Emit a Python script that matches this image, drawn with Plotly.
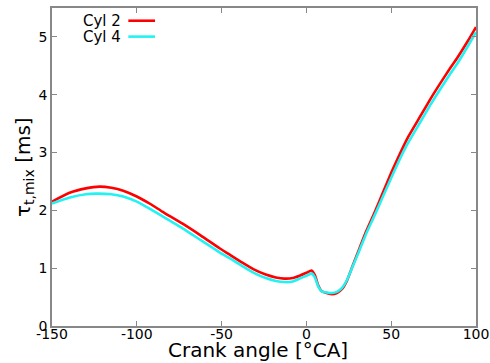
import plotly.graph_objects as go

# Crank angle sample points [°CA] and mixing time [ms] for each cylinder
cyl2_angle = [-150, -140, -130, -122, -115, -108, -100, -92, -85, -73, -62, -51, -45, -38,
              -31, -24, -18, -13, -8, -4, 0, 3, 5, 7, 9, 12, 15, 18, 21, 24, 27, 31, 35,
              40, 45, 50, 55, 60, 67, 73, 79, 85, 89, 95, 100]
cyl2_tau = [2.15, 2.30, 2.38, 2.41, 2.39, 2.34, 2.24, 2.11, 1.98, 1.77, 1.56, 1.34, 1.23, 1.10,
            0.98, 0.89, 0.84, 0.82, 0.83, 0.87, 0.92, 0.96, 0.88, 0.70, 0.60, 0.57, 0.55, 0.57,
            0.64, 0.79, 1.02, 1.32, 1.62, 1.95, 2.30, 2.65, 2.97, 3.27, 3.62, 3.92, 4.20, 4.47,
            4.64, 4.92, 5.17]

cyl4_angle = [-150, -140, -130, -124, -115, -108, -100, -92, -85, -73, -62, -51, -45, -38,
              -31, -24, -18, -13, -8, -4, 0, 3, 5, 7, 9, 12, 15, 18, 21, 24, 27, 31, 35,
              40, 45, 50, 55, 60, 67, 73, 79, 85, 89, 95, 100]
cyl4_tau = [2.12, 2.22, 2.28, 2.29, 2.28, 2.24, 2.15, 2.02, 1.90, 1.69, 1.48, 1.27, 1.17, 1.04,
            0.92, 0.83, 0.78, 0.76, 0.77, 0.82, 0.87, 0.91, 0.84, 0.68, 0.60, 0.58, 0.57, 0.59,
            0.66, 0.80, 1.01, 1.29, 1.58, 1.90, 2.23, 2.56, 2.88, 3.17, 3.52, 3.82, 4.10, 4.37,
            4.54, 4.83, 5.08]

series = [("Cyl 2", cyl2_angle, cyl2_tau, "#ff0000"),
          ("Cyl 4", cyl4_angle, cyl4_tau, "#22f2f2")]

x_ticks = [-150, -100, -50, 0, 50, 100]
x_tick_labels = ["-150", "-100", "-50", "0", "50", "100"]
y_ticks = [0, 1, 2, 3, 4, 5]
y_tick_labels = ["0", "1", "2", "3", "4", "5"]

FONT = "DejaVu Sans"
AXIS_COLOR = "#888888"

fig = go.Figure()
for name, xs, ys, color in series:
    fig.add_trace(go.Scatter(
        x=xs, y=ys, mode="lines", name=name,
        line=dict(color=color, width=2.6, shape="spline", smoothing=0.5),
        showlegend=False,
    ))

axis_common = dict(
    showgrid=False, zeroline=False, showline=True, mirror="ticks",
    linecolor=AXIS_COLOR, linewidth=1.5, automargin=False,
    ticks="inside", ticklen=5, tickcolor=AXIS_COLOR, tickwidth=1,
    tickfont=dict(family=FONT, size=14, color="#000000"),
)

fig.update_xaxes(range=[-150, 100], tickvals=x_ticks, ticktext=x_tick_labels,
                 ticklabelstandoff=-6, **axis_common)
fig.update_yaxes(range=[0, 5.5], tickvals=y_ticks, ticktext=y_tick_labels, **axis_common)

# axis titles
fig.add_annotation(xref="paper", yref="paper", x=0.487, y=-0.074, text="Crank angle [°CA]",
                   showarrow=False, xanchor="center", yanchor="middle",
                   font=dict(family=FONT, size=20, color="#000000"))
fig.add_annotation(xref="paper", yref="paper", x=-0.066, y=0.50, text="τ<sub>t,mix</sub> [ms]",
                   showarrow=False, xanchor="center", yanchor="middle", textangle=-90,
                   font=dict(family=FONT, size=20, color="#000000"))

# gnuplot-style key: right-aligned label followed by a line sample
key_rows = [(0.96, series[0]), (0.91, series[1])]
for ypos, (name, _, _, color) in key_rows:
    fig.add_annotation(xref="paper", yref="paper", x=0.168, y=ypos, text=name,
                       showarrow=False, xanchor="right", yanchor="middle",
                       font=dict(family=FONT, size=15, color="#000000"))
    fig.add_shape(type="line", xref="paper", yref="paper",
                  x0=0.18, x1=0.243, y0=ypos, y1=ypos,
                  line=dict(color=color, width=2.6))

fig.update_layout(
    width=490, height=363,
    margin=dict(l=52, r=14, t=8, b=37),
    paper_bgcolor="white", plot_bgcolor="white",
    font=dict(family=FONT),
)

fig.write_html("out.html")
